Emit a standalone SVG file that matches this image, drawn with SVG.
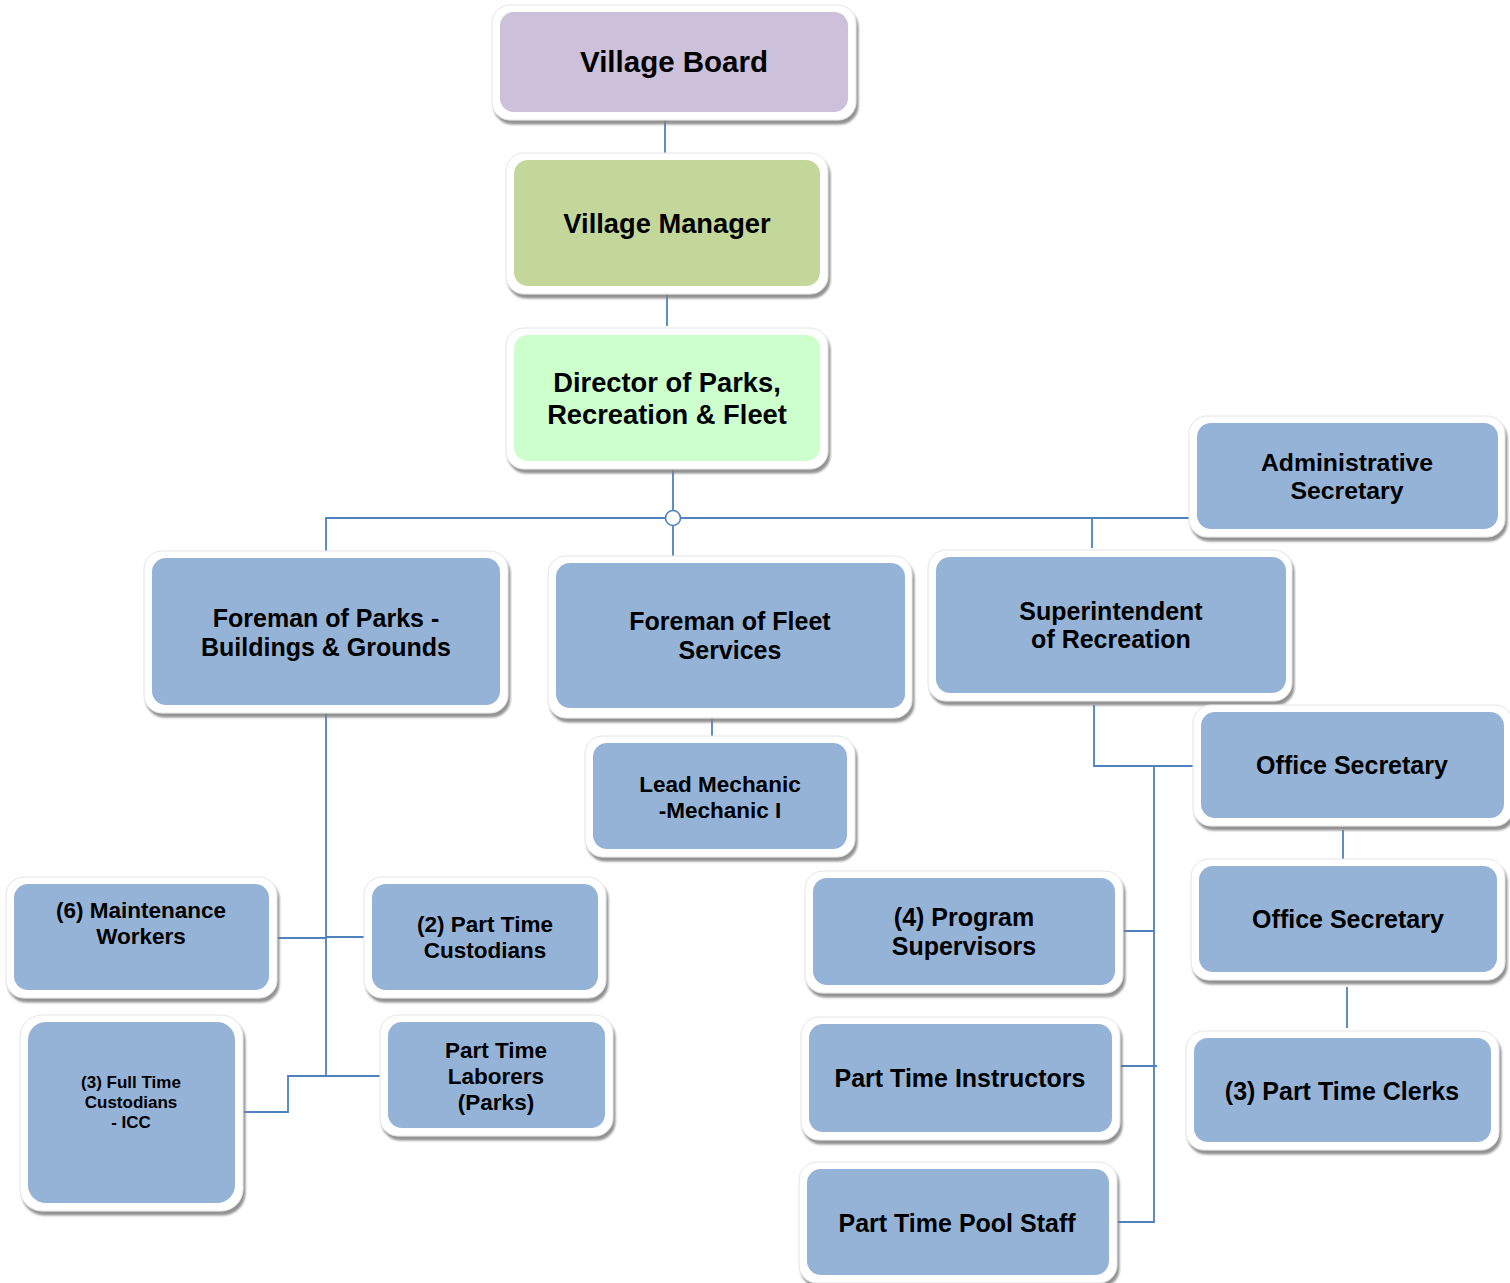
<svg xmlns="http://www.w3.org/2000/svg" width="1510" height="1283" viewBox="0 0 1510 1283">
<defs>
<filter id="sh" x="-5%" y="-5%" width="112%" height="120%">
<feDropShadow dx="2" dy="4" stdDeviation="1.3" flood-color="#7f7f7f" flood-opacity="0.85"/>
</filter>
</defs>
<style>
.o{fill:#ffffff;stroke:#e4e4e4;stroke-width:1;filter:url(#sh)}
.b{fill:#95b3d7}
.t{font-family:"Liberation Sans",Arial,sans-serif;font-weight:bold;fill:#000;text-anchor:middle}
.c{fill:none;stroke:#4f81bd;stroke-width:1.8}
</style>
<rect width="1510" height="1283" fill="#ffffff"/>
<g id="connectors">
<path class="c" d="M665 120V163"/>
<path class="c" d="M667 295V326"/>
<path class="c" d="M673 470V511M673 525V562"/>
<path class="c" d="M666 518H326V555M680 518H1189M1092 518V548"/>
<path class="c" d="M326 711V1076M277 938H326M326 937H368"/>
<path class="c" d="M243 1112H288V1076H381"/>
<path class="c" d="M712 703V743"/>
<path class="c" d="M1094 705V766H1193M1154 766V1222H1114M1120 931H1154M1112 1066H1157"/>
<path class="c" d="M1343 830V870"/>
<path class="c" d="M1347 987V1028"/>
<circle cx="673" cy="518" r="7.5" fill="#ffffff" stroke="#4f81bd" stroke-width="1.6"/>
</g>
<g id="village-board">
<rect class="o" x="492" y="5" width="364" height="115" rx="18"/>
<rect x="500" y="12" width="348" height="100" rx="14" fill="#ccc0da"/>
<text class="t" x="674" y="72" font-size="29.5">Village Board</text>
</g>
<g id="village-manager">
<rect class="o" x="506" y="153" width="322" height="141" rx="18"/>
<rect x="514" y="160" width="306" height="126" rx="14" fill="#c4d79b"/>
<text class="t" x="667" y="233" font-size="27.3">Village Manager</text>
</g>
<g id="director">
<rect class="o" x="506" y="328" width="322" height="141" rx="18"/>
<rect x="514" y="335" width="306" height="126" rx="14" fill="#ccffcc"/>
<text class="t" x="667" y="392" font-size="27.3">Director of Parks,</text>
<text class="t" x="667" y="424" font-size="27.3">Recreation &amp; Fleet</text>
</g>
<g id="admin-secretary">
<rect class="o" x="1189" y="416" width="316" height="121" rx="18"/>
<rect class="b" x="1197" y="423" width="301" height="106" rx="14"/>
<text class="t" x="1347" y="471" font-size="24.8">Administrative</text>
<text class="t" x="1347" y="499" font-size="24.8">Secretary</text>
</g>
<g id="foreman-parks">
<rect class="o" x="144" y="551" width="364" height="162" rx="18"/>
<rect class="b" x="152" y="558" width="348" height="147" rx="14"/>
<text class="t" x="326" y="627" font-size="25">Foreman of Parks -</text>
<text class="t" x="326" y="656" font-size="25">Buildings &amp; Grounds</text>
</g>
<g id="foreman-fleet">
<rect class="o" x="548" y="556" width="364" height="162" rx="18"/>
<rect class="b" x="556" y="563" width="349" height="145" rx="14"/>
<text class="t" x="730" y="630" font-size="25">Foreman of Fleet</text>
<text class="t" x="730" y="659" font-size="25">Services</text>
</g>
<g id="lead-mechanic">
<rect class="o" x="585" y="736" width="270" height="121" rx="18"/>
<rect class="b" x="593" y="743" width="254" height="106" rx="14"/>
<text class="t" x="720" y="792" font-size="22.5">Lead Mechanic</text>
<text class="t" x="720" y="818" font-size="22.5">-Mechanic I</text>
</g>
<g id="superintendent">
<rect class="o" x="928" y="550" width="364" height="151" rx="18"/>
<rect class="b" x="936" y="557" width="350" height="136" rx="14"/>
<text class="t" x="1111" y="620" font-size="25">Superintendent</text>
<text class="t" x="1111" y="648" font-size="25">of Recreation</text>
</g>
<g id="office-secretary-1">
<rect class="o" x="1193" y="705" width="320" height="121" rx="18"/>
<rect class="b" x="1201" y="712" width="303" height="106" rx="14"/>
<text class="t" x="1352" y="774" font-size="25">Office Secretary</text>
</g>
<g id="office-secretary-2">
<rect class="o" x="1191" y="859" width="314" height="121" rx="18"/>
<rect class="b" x="1199" y="866" width="298" height="106" rx="14"/>
<text class="t" x="1348" y="928" font-size="25">Office Secretary</text>
</g>
<g id="part-time-clerks">
<rect class="o" x="1186" y="1031" width="313" height="119" rx="18"/>
<rect class="b" x="1194" y="1038" width="297" height="104" rx="14"/>
<text class="t" x="1342" y="1100" font-size="25">(3) Part Time Clerks</text>
</g>
<g id="program-supervisors">
<rect class="o" x="805" y="871" width="318" height="122" rx="18"/>
<rect class="b" x="813" y="878" width="302" height="107" rx="14"/>
<text class="t" x="964" y="926" font-size="25">(4) Program</text>
<text class="t" x="964" y="955" font-size="25">Supervisors</text>
</g>
<g id="part-time-instructors">
<rect class="o" x="801" y="1017" width="319" height="123" rx="18"/>
<rect class="b" x="809" y="1024" width="303" height="108" rx="14"/>
<text class="t" x="960" y="1087" font-size="25">Part Time Instructors</text>
</g>
<g id="part-time-pool-staff">
<rect class="o" x="799" y="1162" width="318" height="121" rx="18"/>
<rect class="b" x="807" y="1169" width="302" height="106" rx="14"/>
<text class="t" x="957" y="1232" font-size="25">Part Time Pool Staff</text>
</g>
<g id="maintenance-workers">
<rect class="o" x="6" y="877" width="271" height="121" rx="18"/>
<rect class="b" x="14" y="884" width="255" height="106" rx="14"/>
<text class="t" x="141" y="918" font-size="22.5">(6) Maintenance</text>
<text class="t" x="141" y="944" font-size="22.5">Workers</text>
</g>
<g id="part-time-custodians">
<rect class="o" x="364" y="877" width="242" height="121" rx="18"/>
<rect class="b" x="372" y="884" width="226" height="106" rx="14"/>
<text class="t" x="485" y="932" font-size="22.5">(2) Part Time</text>
<text class="t" x="485" y="958" font-size="22.5">Custodians</text>
</g>
<g id="full-time-custodians">
<rect class="o" x="20" y="1015" width="223" height="196" rx="22"/>
<rect class="b" x="28" y="1022" width="207" height="181" rx="18"/>
<text class="t" x="131" y="1088" font-size="17">(3) Full Time</text>
<text class="t" x="131" y="1108" font-size="17">Custodians</text>
<text class="t" x="131" y="1128" font-size="17">- ICC</text>
</g>
<g id="part-time-laborers">
<rect class="o" x="380" y="1015" width="233" height="121" rx="18"/>
<rect class="b" x="388" y="1022" width="217" height="106" rx="14"/>
<text class="t" x="496" y="1058" font-size="22.5">Part Time</text>
<text class="t" x="496" y="1084" font-size="22.5">Laborers</text>
<text class="t" x="496" y="1110" font-size="22.5">(Parks)</text>
</g>
</svg>
